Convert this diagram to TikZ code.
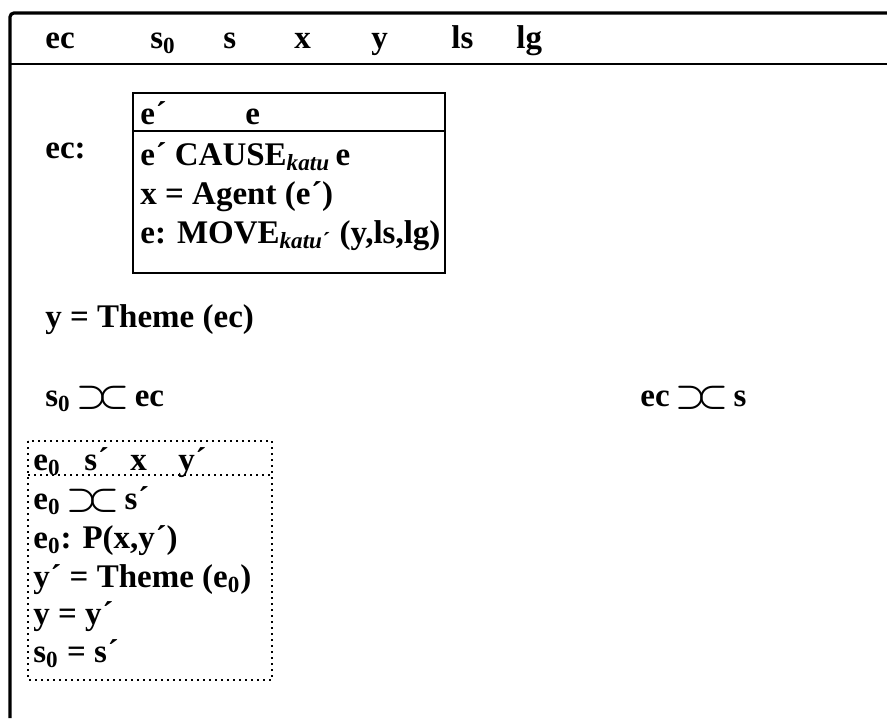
\documentclass[tikz,border=0pt]{standalone}
\usepackage{fontspec}
\setmainfont{Liberation Serif}
\usetikzlibrary{positioning}
\newcommand{\abutsym}{\ensuremath{\mathrel{\supset\mkern-4mu\subset}}}
\newcommand{\pr}{{\kern0.3pt´}}

\begin{document}
\begin{tikzpicture}[x=0.5pt,y=-0.5pt,
  drstext/.style={anchor=base west,inner sep=0pt,font=\fontsize{16.5}{19}\selectfont\bfseries\boldmath},
  outerframe/.style={line width=1.6pt,rounded corners=2pt},
  innerframe/.style={line width=1.2pt},
  dotframe/.style={line width=1pt,dotted}]
\useasboundingbox (0,0) rectangle (887,718);

% main DRS frame (cut at right and bottom)
\draw[outerframe] (887,13) -- (10,13) -- (10,718);
\draw[line width=1.3pt] (10,64) -- (887,64);

% universe
\node[drstext] (u_ec) at (45,48) {ec};
\node[drstext] (u_s0) at (150,48) {s\textsubscript{0}};
\node[drstext] (u_s) at (223,48) {s};
\node[drstext] (u_x) at (294,48) {x};
\node[drstext] (u_y) at (371,48) {y};
\node[drstext] (u_ls) at (451,48) {ls};
\node[drstext] (u_lg) at (516,48) {lg};

% ec: embedded box
\node[drstext] (ec_lbl) at (45,158) {ec:};
\draw[innerframe] (133,93) rectangle (445,273);
\draw[innerframe] (133,131) -- (445,131);
\node[drstext] (in_e1) at (140,124) {e\pr};
\node[drstext] (in_e) at (245,124) {e};
\node[drstext] (c_cause) at (140,165) {e\pr{} CAUSE\textsubscript{\textit{katu}}\,e};
\node[drstext] (c_agent) at (140,204) {x = Agent (e\pr)};
\node[drstext] (c_move) at (140,243) {e: MOVE\textsubscript{\textit{katu}\pr} (y,ls,lg)};

\node[drstext] (c_theme) at (45,327) {y = Theme (ec)};
\node[drstext] (c_abut1) at (45,406) {s\textsubscript{0}\,\abutsym\,ec};
\node[drstext] (c_abut2) at (640,406) {ec\,\abutsym\,s};

% dotted box
\draw[dotframe] (28,441) rectangle (272,680);
\draw[dotframe] (28,475) -- (272,475);
\node[drstext] (d_e0) at (33,470) {e\textsubscript{0}};
\node[drstext] (d_s) at (84,470) {s\pr};
\node[drstext] (d_x) at (130,470) {x};
\node[drstext] (d_y) at (178,470) {y\pr};
\node[drstext] (d_abut) at (33,509) {e\textsubscript{0}\,\abutsym\,s\pr};
\node[drstext] (d_p) at (33,548) {e\textsubscript{0}: P(x,y\pr)};
\node[drstext] (d_theme) at (33,587) {y\pr{} = Theme (e\textsubscript{0})};
\node[drstext] (d_eq1) at (33,624) {y = y\pr};
\node[drstext] (d_eq2) at (33,662) {s\textsubscript{0} = s\pr};
\end{tikzpicture}
\end{document}
